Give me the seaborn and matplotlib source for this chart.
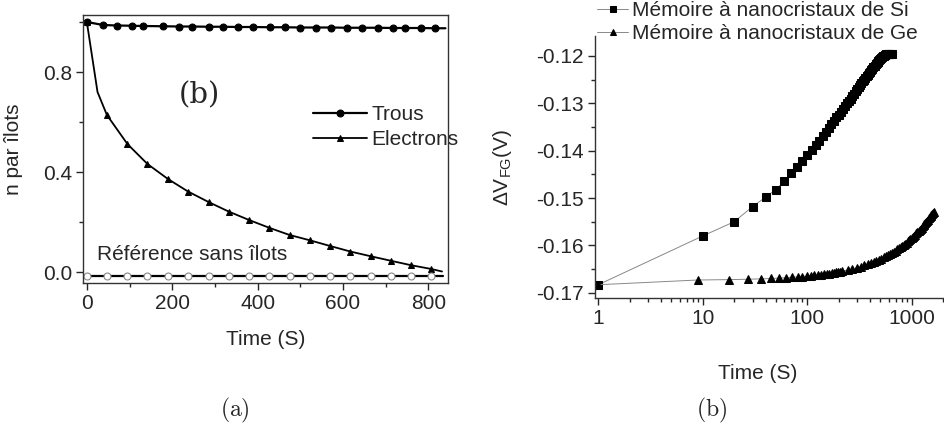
import seaborn as sns
import matplotlib.pyplot as plt
import numpy as np

# ---- panel (a): charge per island vs time ----
trous_t = [0, 38, 71, 106, 131, 178, 215, 246, 285, 318, 355, 389, 428, 464,
           499, 536, 571, 609, 644, 682, 718, 746, 782, 815, 840]
trous_n = [1.000, 0.988, 0.986, 0.985, 0.984, 0.983, 0.982, 0.982, 0.981, 0.981,
           0.980, 0.980, 0.979, 0.979, 0.978, 0.978, 0.978, 0.977, 0.977, 0.977,
           0.976, 0.976, 0.976, 0.975, 0.975]

elec_t = [0, 25, 47, 95, 142, 190, 237, 285, 332, 380, 427, 475, 522, 570,
          617, 665, 712, 760, 807, 832]
elec_n = [1.000, 0.720, 0.628, 0.512, 0.432, 0.372, 0.322, 0.280, 0.242, 0.208,
          0.177, 0.148, 0.127, 0.104, 0.082, 0.063, 0.045, 0.027, 0.012, 0.002]

ref_t = [0, 47, 95, 142, 190, 237, 285, 332, 380, 427, 475, 522, 570, 617,
         665, 712, 760, 807, 835]
ref_n = [-0.016] * len(ref_t)

# ---- panel (b): flat-band shift vs time ----
si_t = [1] + list(range(10, 641, 10))
si_v = [-0.1683,
        -0.1580, -0.1550, -0.1518, -0.1498, -0.1482, -0.1465, -0.1448, -0.1434,
        -0.1421, -0.1409, -0.1398, -0.1388, -0.1379, -0.1370, -0.1361, -0.1352,
        -0.1344, -0.1337, -0.1330, -0.1324, -0.1318, -0.1312, -0.1306, -0.1300,
        -0.1295, -0.1290, -0.1285, -0.1280, -0.1275, -0.1270, -0.1266, -0.1262,
        -0.1258, -0.1254, -0.1250, -0.1246, -0.1243, -0.1240, -0.1236, -0.1233,
        -0.1230, -0.1227, -0.1224, -0.1221, -0.1218, -0.1215, -0.1213, -0.1211,
        -0.1209, -0.1207, -0.1205, -0.1203, -0.1201, -0.1200, -0.1199, -0.1198,
        -0.1197, -0.1197, -0.1196, -0.1196, -0.1196, -0.1195, -0.1195, -0.1195]

ge_t = [1] + list(range(9, 217, 9)) + list(range(243, 1621, 27))
ge_v = [-0.1683,
        -0.16730, -0.16722, -0.16714, -0.16706, -0.16698, -0.16690, -0.16682,
        -0.16673, -0.16665, -0.16657, -0.16649, -0.16641, -0.16633, -0.16625,
        -0.16617, -0.16609, -0.16601, -0.16593, -0.16585, -0.16577, -0.16569,
        -0.16560, -0.16552, -0.16544,
        -0.16520, -0.16496, -0.16472, -0.16447, -0.16423, -0.16399, -0.16375,
        -0.16351, -0.16326, -0.16302, -0.16278, -0.16254, -0.16230, -0.16205,
        -0.16181, -0.16157, -0.16133, -0.16109, -0.16084, -0.16060, -0.16036,
        -0.16012, -0.15988, -0.15963, -0.15939, -0.15915, -0.15891, -0.15867,
        -0.15842, -0.15818, -0.15794, -0.15770, -0.15746, -0.15721, -0.15697,
        -0.15673, -0.15649, -0.15625, -0.15600, -0.15576, -0.15552, -0.15528,
        -0.15504, -0.15479, -0.15455, -0.15431, -0.15407, -0.15383, -0.15358,
        -0.15334, -0.15310, -0.15286]

sns.set_style('ticks')
plt.rcParams['font.family'] = ['Liberation Sans', 'DejaVu Sans']
plt.rcParams['axes.unicode_minus'] = False
plt.rcParams['mathtext.fontset'] = 'custom'
plt.rcParams['mathtext.rm'] = 'Liberation Sans'
plt.rcParams['mathtext.it'] = 'Liberation Sans'
plt.rcParams['font.size'] = 15

fig = plt.figure(figsize=(9.45, 4.34), dpi=100)
W, H = 945, 434

# left axes
ax1 = fig.add_axes([83 / W, (H - 283) / H, 365 / W, 268 / H])
sns.lineplot(x=trous_t, y=trous_n, ax=ax1, color='black', lw=1.6, marker='o',
             ms=5, mec='black', markevery=list(range(24)), label='Trous',
             estimator=None)
sns.lineplot(x=elec_t, y=elec_n, ax=ax1, color='black', lw=1.3, marker='^',
             ms=5, mec='black', label='Electrons', estimator=None,
             markevery=[0] + list(range(2, 19)))
sns.lineplot(x=ref_t, y=ref_n, ax=ax1, color='black', lw=1.6, marker='o',
             ms=5, mfc='white', mec='#888888', mew=0.8,
             markevery=list(range(18)), estimator=None, legend=False)

ax1.set_xlim(-9, 846)
ax1.set_ylim(-0.044, 1.028)
ax1.set_xticks([0, 200, 400, 600, 800])
ax1.set_xticks([100, 300, 500, 700], minor=True)
ax1.set_yticks([0.0, 0.4, 0.8])
ax1.set_yticks([0.2, 0.6, 1.0], minor=True)
ax1.set_yticklabels(['0.0', '0.4', '0.8'])
ax1.tick_params(which='major', direction='out', length=5, width=1, pad=3,
                labelsize=15)
ax1.tick_params(which='minor', direction='out', length=3, width=1)
for s in ax1.spines.values():
    s.set_linewidth(1.0)
    s.set_color('#333333')
ax1.set_xlabel('Time (S)', fontsize=15, labelpad=12)
ax1.set_ylabel('n par îlots', fontsize=15, labelpad=14)
ax1.text(263, 0.708, '(b)', fontsize=21, family='DejaVu Serif',
         ha='center', va='center')
ax1.text(23, 0.068, 'Référence sans îlots', fontsize=15, ha='left',
         va='center')
ax1.legend(loc='upper left', bbox_to_anchor=((313 - 83) / 365, (283 - 105) / 268),
           frameon=False, borderpad=0, borderaxespad=0, handlelength=2.6,
           handletextpad=0.2, labelspacing=0.3, fontsize=15)

# right axes
ax2 = fig.add_axes([595 / W, (H - 298) / H, 350 / W, 262 / H])
sns.lineplot(x=si_t, y=si_v, ax=ax2, color='#888888', lw=0.7, marker='s',
             ms=6, mfc='black', mec='black', label='Mémoire à nanocristaux de Si',
             estimator=None, legend=False)
sns.lineplot(x=ge_t, y=ge_v, ax=ax2, color='#888888', lw=0.7, marker='^',
             ms=6.5, mfc='black', mec='black', label='Mémoire à nanocristaux de Ge',
             estimator=None, legend=False)
ax2.set_xscale('log')
ax2.set_xlim(0.93, 2080)
ax2.set_ylim(-0.1711, -0.1158)
ax2.set_xticks([1, 10, 100, 1000])
ax2.set_xticklabels(['1', '10', '100', '1000'])
ax2.set_yticks([-0.17, -0.16, -0.15, -0.14, -0.13, -0.12])
ax2.set_yticklabels(['-0.17', '-0.16', '-0.15', '-0.14', '-0.13', '-0.12'])
ax2.set_yticks([-0.165, -0.155, -0.145, -0.135, -0.125], minor=True)
ax2.tick_params(which='major', direction='out', length=5, width=1, pad=3,
                labelsize=15)
ax2.tick_params(which='minor', direction='out', length=3, width=1)
ax2.spines['top'].set_visible(False)
ax2.spines['right'].set_visible(False)
for s in ['left', 'bottom']:
    ax2.spines[s].set_linewidth(1.0)
    ax2.spines[s].set_color('#333333')
ax2.set_xlabel('Time (S)', fontsize=15, labelpad=26)
ax2.xaxis.label.set_x(0.466)
ax2.set_ylabel(r'$\Delta$V$_{\rm FG}$(V)', fontsize=15, labelpad=16)

h, l = ax2.get_legend_handles_labels()
for hd in h:
    hd.set_markersize(4.5)
fig.legend(h, l, loc='upper left', bbox_to_anchor=(597 / W, (H - 1) / H),
           frameon=False, borderpad=0, borderaxespad=0, handlelength=1.5,
           handletextpad=0.2, labelspacing=0.2, fontsize=15)
for hd in h:
    hd.set_markersize(6)

# sub-figure captions
fig.text(235 / W, 1 - 410 / H, r'$\mathrm{(a)}$', fontsize=17, ha='center',
         va='center', math_fontfamily='cm')
fig.text(712 / W, 1 - 410 / H, r'$\mathrm{(b)}$', fontsize=17, ha='center',
         va='center', math_fontfamily='cm')

fig.savefig('out.png', dpi=100)
